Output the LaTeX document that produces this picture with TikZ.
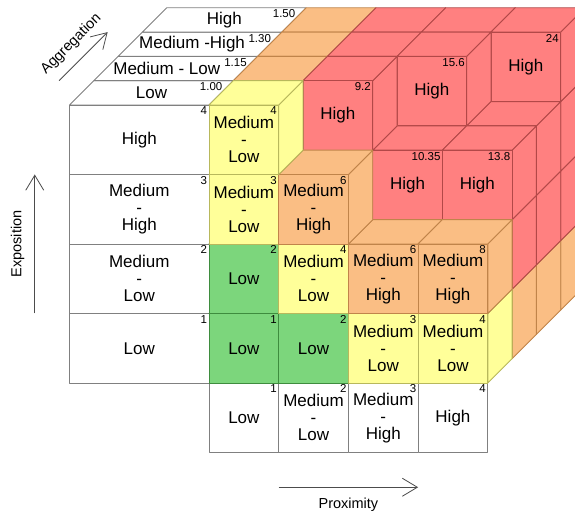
\documentclass[tikz,border=0pt]{standalone}
\usepackage{fontspec}
\setmainfont{Liberation Sans}
\usetikzlibrary{arrows.meta}
\definecolor{lowfill}{RGB}{124,214,124}
\definecolor{lowline}{RGB}{62,140,62}
\definecolor{mlfill}{RGB}{255,255,153}
\definecolor{mlline}{RGB}{184,184,92}
\definecolor{mhfill}{RGB}{250,190,132}
\definecolor{mhline}{RGB}{192,132,74}
\definecolor{hifill}{RGB}{255,128,128}
\definecolor{hiline}{RGB}{178,72,72}
\definecolor{gridline}{RGB}{128,128,128}
\pgfkeys{/pgf/number format/assume math mode=true}
% 1 when the cube (i,j,k) is cut away from the block.
\newcommand*{\carved}[4]{\pgfmathtruncatemacro{#1}{((#4==1)&&(((#2>2)&&(#3>2))||((#2==2)&&(#3==4))))||((#4==2)&&(#2>2)&&(#3==4))||((#4==3)&&(#2==4)&&(#3==4))}}
\tikzstyle{face0} = [fill=lowfill, draw=lowline]
\tikzstyle{face1} = [fill=mlfill, draw=mlline]
\tikzstyle{face2} = [fill=mhfill, draw=mhline]
\tikzstyle{face3} = [fill=hifill, draw=hiline]
\tikzstyle{heading cell} = [fill=white, draw=gridline]
\tikzstyle{category} = [align=center, inner sep=0pt, font=\fontsize{17}{17}\selectfont]
\tikzstyle{score} = [anchor=north east, inner sep=1.5pt, font=\fontsize{11.5}{12}\selectfont]
\tikzstyle{arrow axis} = [-{Straight Barb[length=15pt, width=18pt]}, draw=black!70, line width=0.8pt]
\tikzstyle{axis label} = [inner ysep=10pt, font=\fontsize{14.5}{15}\selectfont]

\begin{document}
\begin{tikzpicture}[x={(69.7pt,0pt)}, y={(0pt,69.5pt)}, z={(24.3pt,24.3pt)}, line width=0.9pt, line join=round]
    \useasboundingbox (-209pt,-133pt) rectangle (366pt,383pt);
    \clip (-209pt,-133pt) rectangle (366pt,383pt);

    % Exposition levels.
    \foreach \j/\name in {1/Low, 2/{Medium\\-\\Low}, 3/{Medium\\-\\High}, 4/High} {
        \draw [heading cell] (-2,\j-1) rectangle (0,\j);
        \node (exposition \j) [category] at (-1,\j-0.5) {\name};
        \node (exposition score \j) [score] at (0,\j) {\j};
    }

    % Proximity levels.
    \foreach \i/\name in {1/Low, 2/{Medium\\-\\Low}, 3/{Medium\\-\\High}, 4/High} {
        \draw [heading cell] (\i-1,-1) rectangle (\i,0);
        \node (proximity \i) [category] at (\i-0.5,-0.5) {\name};
        \node (proximity score \i) [score] at (\i,0) {\i};
    }

    % Aggregation levels.
    \foreach \k/\name/\factor/\shift in {1/Low/1.00/0, 2/Medium - Low/1.15/-9, 3/Medium -High/1.30/-8, 4/High/1.50/0} {
        \draw [heading cell] (-2,4,\k-1) -- (0,4,\k-1) -- (0,4,\k) -- (-2,4,\k) -- cycle;
        \node (aggregation \k) [category, xshift=\shift pt] at (-1,4,\k-0.5) {\name};
        \node (aggregation score \k) [score, xshift=-9pt] at (0,4,\k) {\factor};
    }

    % Cubes, back to front.
    \foreach \k in {4,3,2,1} {
        \foreach \j in {1,2,3,4} {
            \foreach \i in {1,2,3,4} {
                \carved{\cutaway}{\i}{\j}{\k}
                \ifnum\cutaway=0
                    \pgfmathsetmacro{\val}{\i*\j*{1,1.15,1.3,1.5}[\k-1]}
                    \pgfmathtruncatemacro{\band}{(\val>2.5)+(\val>4.5)+(\val>8.95)}
                    \ifcase\band \def\bandname{Low}\or \def\bandname{Medium\\-\\Low}\or \def\bandname{Medium\\-\\High}\or \def\bandname{High}\fi
                    \draw [face\band] (\i,\j-1,\k-1) -- (\i,\j-1,\k) -- (\i,\j,\k) -- (\i,\j,\k-1) -- cycle;
                    \draw [face\band] (\i-1,\j,\k-1) -- (\i,\j,\k-1) -- (\i,\j,\k) -- (\i-1,\j,\k) -- cycle;
                    \draw [face\band] (\i-1,\j-1,\k-1) -- (\i,\j-1,\k-1) -- (\i,\j,\k-1) -- (\i-1,\j,\k-1) -- cycle;
                    \pgfmathtruncatemacro{\front}{\k-1}
                    \carved{\exposed}{\i}{\j}{\front}
                    \ifnum\k=1 \def\exposed{1}\fi
                    \ifnum\exposed=1
                        \node (cube \i\j\k) [category] at (\i-0.5,\j-0.5,\k-1) {\bandname};
                        \node (cube score \i\j\k) [score] at (\i,\j,\k-1) {\pgfmathprintnumber{\val}};
                    \fi
                \fi
            }
        }
    }

    % Arrows.
    \coordinate (exposition start) at (-2.5,1);
    \coordinate (exposition end) at (-2.5,3);
    \coordinate (proximity start) at (1,-1.5);
    \coordinate (proximity end) at (3,-1.5);
    \coordinate (aggregation start) at (-2.5,4,1);
    \coordinate (aggregation end) at (-2.5,4,3);
    \draw [arrow axis] (exposition start) -- node [axis label, sloped, above] {Exposition} (exposition end);
    \draw [arrow axis] (proximity start) -- node [axis label, below] {Proximity} (proximity end);
    \draw [arrow axis] (aggregation start) -- node [axis label, sloped, above] {Aggregation} (aggregation end);
\end{tikzpicture}
\end{document}
